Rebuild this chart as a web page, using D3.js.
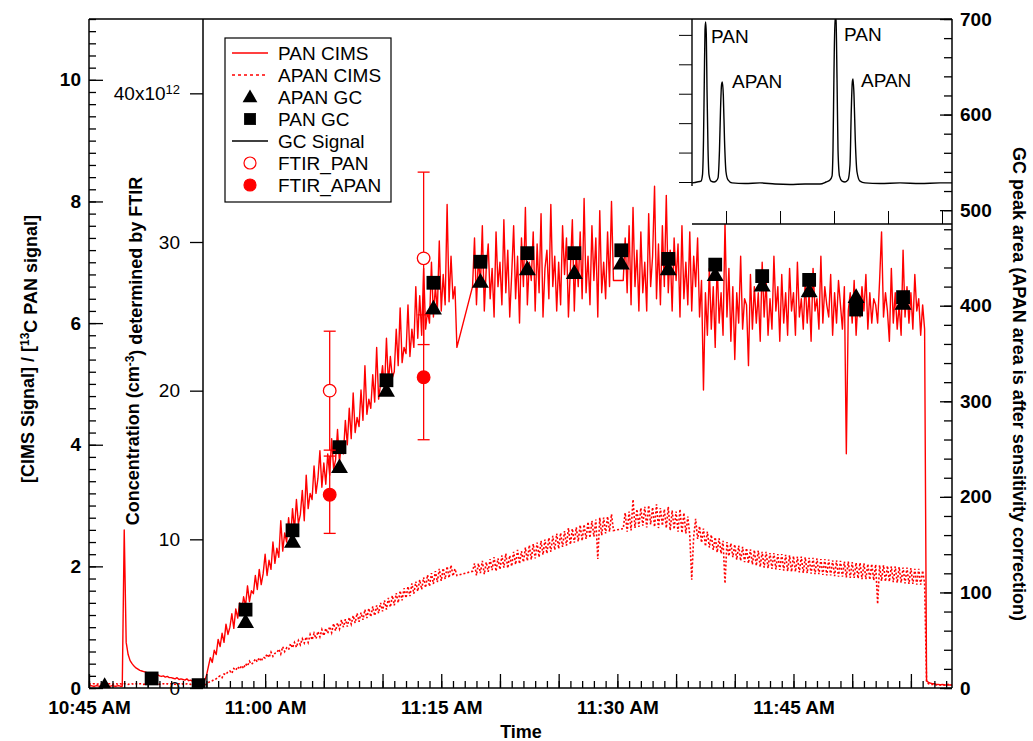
<!DOCTYPE html>
<html>
<head>
<meta charset="utf-8">
<script src="https://cdn.jsdelivr.net/npm/d3@7"></script>
<style>
  body { margin: 0; background: #fff; }
  svg { display: block; font-family: Arial, "Liberation Sans", sans-serif; }
</style>
</head>
<body>
<div id="chart"></div>
<script>
const parseTime = d3.timeParse("%H:%M:%S");

// CIMS ratios (left axis), one value every 10 s from 10:45:00 (6 per row = 1 min), null = no data
const cimsStart = "10:45:00";
const cimsStepSec = 10;
const panCims = [
  0.03, 0.04, 0.03, 0.03, 0.04, 0.03,
  0.03, 0.04, 0.03, 0.04, 0.03, 0.03,
  0.04, 0.03, 0.03, 0.04, 0.03, 0.03,
  2.6, 0.75, 0.55, 0.45, 0.4, 0.36,
  0.33, 0.31, 0.29, 0.28, 0.27, 0.26,
  0.25, 0.23, 0.24, 0.22, 0.21, 0.22,
  0.2, 0.19, 0.2, 0.18, 0.19, 0.17,
  0.17, 0.16, 0.15, 0.17, 0.14, 0.15,
  0.14, 0.13, 0.15, 0.12, 0.13, 0.11,
  0.12, 0.1, 0.11, 0.09, 0.1, 0.12,
  0.2, 0.35, 0.5, 0.42, 0.62, 0.55,
  0.8, 0.68, 0.9, 0.75, 1.05, 0.88,
  1.0, 1.22, 0.98, 1.3, 1.15, 1.4,
  1.25, 1.5, 1.35, 1.68, 1.42, 1.6,
  1.55, 1.85, 1.62, 1.95, 1.7, 1.88,
  2.2, 1.85, 2.1, 1.95, 2.4, 2.05,
  2.3, 2.15, 2.75, 2.25, 2.55, 2.4,
  2.8, 2.45, 2.95, 2.6, 3.1, 2.7,
  2.85, 3.25, 2.75, 3.5, 2.95, 3.2,
  3.1, 3.65, 3.2, 3.45, 3.9, 3.3,
  3.7, 3.35, 3.85, 3.5, 4.1, 3.6,
  3.75, 4.25, 3.7, 4.05, 3.85, 4.4,
  4.0, 4.6, 4.1, 4.85, 4.2, 4.45,
  4.3, 4.9, 4.4, 5.3, 4.5, 4.75,
  4.6, 5.15, 4.7, 5.6, 4.75, 5.0,
  5.3, 4.9, 5.75, 5.0, 5.45, 5.1,
  5.2, 5.9, 5.3, 6.25, 5.35, 5.6,
  5.5, 6.3, 5.45, 5.9, 5.6, 6.6,
  5.75, 6.45, 5.8, 6.9, 5.9, 6.2,
  6.0, 7.0, 6.1, 6.6, 6.2, 7.35,
  6.2, 6.8, 6.3, 7.95, 6.35, 7.1,
  6.4, 6.6, 5.6, null, null, null,
  null, null, null, null, 6.6, 7.4,
  6.3, 7.1, 6.6, 7.6, 6.2, 6.9,
  7.3, 6.4, 6.9, 6.1, 7.5, 6.6,
  7.0, 6.3, 7.7, 6.5, 7.2, 6.1,
  6.8, 7.6, 6.4, 7.1, 6.0, 7.4,
  6.6, 7.9, 6.3, 7.0, 6.7, 7.5,
  6.2, 7.3, 6.5, 7.8, 6.1, 6.9,
  7.2, 6.4, 7.95, 6.6, 7.1, 6.2,
  7.0, 6.3, 7.6, 6.8, 7.4, 6.1,
  6.9, 7.7, 6.2, 7.2, 6.6, 7.5,
  6.4, 8.05, 6.5, 7.1, 6.3, 7.6,
  6.7, 7.4, 6.1, 7.85, 6.5, 7.0,
  6.4, 7.5, 6.6, 8.0, 6.7, null,
  null, null, null, 6.7, 7.4, 6.5,
  7.6, 6.3, 7.9, 6.6, 7.2, 6.2,
  7.5, 6.5, 7.0, 6.2, 7.8, 6.6,
  7.1, 8.25, 6.4, 7.3, 6.3, 7.6,
  6.6, 8.1, 6.5, 7.2, 6.2, 7.4,
  6.7, 7.3, 6.1, 7.6, 6.4, 7.0,
  6.3, 7.5, 6.2, 7.1, 6.6, 7.4,
  6.1, 6.7, 4.9, 6.5, 5.8, 6.9,
  5.9, 6.6, 5.6, 7.0, 6.0, 6.5,
  5.8, 7.65, 6.1, 6.9, 5.7, 6.6,
  5.4, 6.5, 6.0, 7.1, 5.9, 6.4,
  6.3, 5.3, 6.8, 5.9, 6.6, 6.0,
  6.5, 5.7, 7.0, 6.1, 6.7, 5.8,
  6.4, 5.9, 7.1, 6.2, 6.6, 5.7,
  6.8, 6.0, 6.5, 5.8, 6.9, 6.2,
  6.5, 5.8, 7.0, 6.1, 6.4, 5.9,
  6.7, 6.0, 6.5, 5.7, 6.9, 6.2,
  6.4, 5.9, 7.1, 6.0, 6.6, 6.3,
  6.1, 6.8, 5.8, 6.5, 6.0, 6.7,
  6.3, 5.9, 6.6, 3.85, 6.2, 6.5,
  6.0, 6.7, 5.8, 6.4, 6.1, 6.6,
  6.2, 6.8, 5.9, 6.5, 6.0, 6.4,
  6.3, 6.0, 6.7, 7.5, 6.1, 6.5,
  6.2, 5.7, 6.9, 6.0, 6.5, 5.9,
  6.3, 5.8, 7.2, 6.1, 6.6, 6.0,
  6.5, 5.9, 6.8, 6.2, 6.4, 5.8,
  6.3, 5.9, 0.12, 0.09, 0.08, 0.07,
  0.07, 0.06, 0.06, 0.05, 0.06, 0.05,
  0.05, 0.05, 0.05, 0.05
];
const apanCims = [
  0.07, 0.06, 0.07, 0.07, 0.06, 0.07,
  0.07, 0.06, 0.07, 0.06, 0.07, 0.07,
  0.06, 0.07, 0.07, 0.06, 0.07, 0.06,
  0.07, 0.07, 0.06, 0.07, 0.07, 0.06,
  0.07, 0.06, 0.07, 0.07, 0.06, 0.07,
  0.07, 0.06, 0.07, 0.06, 0.07, 0.07,
  0.06, 0.07, 0.07, 0.06, 0.07, 0.06,
  0.07, 0.07, 0.06, 0.07, 0.07, 0.06,
  0.07, 0.06, 0.07, 0.07, 0.06, 0.07,
  0.07, 0.06, 0.07, 0.06, 0.05, 0.05,
  0.06, 0.09, 0.11, 0.12, 0.14, 0.15,
  0.18, 0.2, 0.17, 0.23, 0.22, 0.27,
  0.28, 0.24, 0.32, 0.29, 0.35, 0.31,
  0.37, 0.32, 0.4, 0.36, 0.44, 0.39,
  0.42, 0.48, 0.43, 0.5, 0.44, 0.51,
  0.49, 0.56, 0.5, 0.59, 0.52, 0.57,
  0.58, 0.64, 0.56, 0.68, 0.6, 0.66,
  0.63, 0.73, 0.66, 0.75, 0.67, 0.78,
  0.71, 0.81, 0.74, 0.84, 0.75, 0.88,
  0.79, 0.9, 0.81, 0.93, 0.84, 0.96,
  0.86, 0.98, 0.9, 1.01, 0.91, 1.06,
  0.94, 1.07, 0.97, 1.12, 1.0, 1.13,
  1.01, 1.16, 1.05, 1.19, 1.07, 1.23,
  1.09, 1.24, 1.12, 1.29, 1.15, 1.31,
  1.17, 1.34, 1.19, 1.36, 1.23, 1.4,
  1.26, 1.44, 1.29, 1.48, 1.33, 1.52,
  1.36, 1.56, 1.4, 1.6, 1.44, 1.64,
  1.48, 1.67, 1.51, 1.72, 1.55, 1.75,
  1.59, 1.78, 1.62, 1.82, 1.65, 1.86,
  1.67, 1.89, 1.71, 1.92, 1.74, 1.96,
  1.76, 1.97, 1.79, 2.0, 1.81, 2.02,
  1.84, 1.96, 1.85, null, null, null,
  null, null, null, null, 1.92, 2.05,
  1.85, 2.05, 1.89, 2.09, 1.87, 2.07,
  1.91, 2.12, 1.94, 2.15, 1.92, 2.13,
  1.95, 2.18, 1.98, 2.21, 1.97, 2.18,
  2.0, 2.24, 2.03, 2.27, 2.04, 2.25,
  2.07, 2.31, 2.09, 2.35, 2.11, 2.37,
  2.13, 2.39, 2.15, 2.42, 2.19, 2.44,
  2.21, 2.47, 2.24, 2.5, 2.27, 2.54,
  2.29, 2.55, 2.32, 2.58, 2.34, 2.63,
  2.36, 2.62, 2.39, 2.64, 2.41, 2.68,
  2.42, 2.69, 2.45, 2.73, 2.47, 2.75,
  2.49, 2.77, 2.12, 2.8, 2.51, 2.8,
  2.54, 2.82, 2.57, 2.86, 2.59, null,
  null, null, null, 2.62, 2.88, 2.57,
  2.9, 2.59, 3.1, 2.63, 2.94, 2.65,
  2.96, 2.67, 2.98, 2.64, 3.0, 2.69,
  2.97, 2.65, 3.02, 2.63, 2.96, 2.67,
  2.94, 2.63, 2.98, 2.59, 2.92, 2.61,
  2.9, 2.57, 2.94, 2.55, 2.88, 2.54,
  2.82, 2.51, 1.78, 2.49, 2.78, 2.45,
  2.66, 2.39, 2.62, 2.33, 2.57, 2.31,
  2.52, 2.27, 2.48, 2.23, 2.46, 2.21,
  2.42, 1.72, 2.4, 2.17, 2.38, 2.15,
  2.36, 2.11, 2.34, 2.09, 2.32, 2.07,
  2.3, 2.05, 2.28, 2.03, 2.27, 2.01,
  2.26, 1.99, 2.24, 1.98, 2.24, 1.97,
  2.22, 1.96, 2.22, 1.95, 2.2, 1.94,
  2.2, 1.93, 2.19, 1.92, 2.18, 1.91,
  2.17, 1.91, 2.16, 1.9, 2.16, 1.89,
  2.15, 1.89, 2.14, 1.88, 2.14, 1.87,
  2.13, 1.87, 2.12, 1.86, 2.12, 1.85,
  2.11, 1.85, 2.1, 1.84, 2.1, 1.83,
  2.09, 1.83, 2.08, 1.82, 2.08, 1.81,
  2.07, 1.81, 2.06, 1.8, 2.06, 1.79,
  2.05, 1.79, 2.04, 1.78, 2.04, 1.77,
  2.03, 1.38, 2.02, 1.76, 2.02, 1.75,
  2.01, 1.75, 2.0, 1.74, 2.0, 1.73,
  1.99, 1.73, 1.98, 1.72, 1.98, 1.71,
  1.97, 1.71, 1.96, 1.7, 1.96, 1.7,
  1.93, 1.72, 0.1, 0.07, 0.06, 0.06,
  0.06, 0.05, 0.06, 0.05, 0.06, 0.05,
  0.05, 0.06, 0.05, 0.05
];

// GC peak areas (right axis), one run every 4 min
const gcRunTimes = ["10:46:20", "10:50:20", "10:54:20", "10:58:20", "11:02:20", "11:06:20",
  "11:10:20", "11:14:20", "11:18:20", "11:22:20", "11:26:20", "11:30:20",
  "11:34:20", "11:38:20", "11:42:20", "11:46:20", "11:50:20", "11:54:20"];
const apanGc = [1, null, null, 68, 152, 230, 310, 396, 424, 437, 433, 443, 437, 431, 420, 414, 408, 401];
const panGc = [null, 10, 3, 82, 165, 252, 322, 424, 446, 455, 455, 458, 449, 443, 431, 427, 396, 409];

// FTIR concentrations (x10^12 cm-3, middle axis)
const ftirTimes = ["11:05:30", "11:13:30"];
const ftirPan = [20.0, 28.9];
const ftirPanErr = [4.0, 5.8];
const ftirApan = [13.0, 20.9];
const ftirApanErr = [2.6, 4.2];

// inset GC chromatogram (two runs back to back)
const gcTraceTime = [0.370, 0.463, 0.537, 0.564, 0.583, 0.598, 0.611, 0.622, 0.635, 0.648, 0.667, 0.685,
  0.722, 0.778, 0.815, 0.852, 0.879, 0.898, 0.917, 0.931, 0.950, 0.972, 1.000, 1.037, 1.111, 1.352,
  1.629, 1.907, 2.185, 2.463, 2.741, 2.852, 2.926, 2.963, 2.981, 3.000, 3.019, 3.037, 3.056, 3.074,
  3.102, 3.148, 3.204, 3.259, 3.296, 3.320, 3.339, 3.352, 3.370, 3.394, 3.426, 3.481, 3.574, 3.852,
  4.222, 4.593, 4.963, 5.185];
const gcTraceSignal = [-0.03, 0, 0.03, 0.24, 1.43, 3.47, 5.17, 5.44, 5.0, 3.13, 1.09, 0.24,
  0.03, 0, 0.03, 0.14, 1.09, 2.45, 3.3, 3.4, 2.96, 1.43, 0.34, 0.07, -0.03, -0.05,
  -0.03, -0.07, -0.085, -0.07, -0.07, 0, 0.07, 0.2, 1.09, 3.81, 5.61, 5.5, 3.47, 1.09,
  0.2, 0.03, 0, 0.07, 0.58, 2.45, 3.4, 3.5, 2.96, 1.43, 0.34, 0.03, -0.03, -0.05,
  -0.03, -0.05, -0.03, -0.03];
const insetLabels = ["PAN", "APAN", "PAN", "APAN"];
const insetLabelTime = [0.722, 1.111, 3.185, 3.5];
const insetLabelSignal = [4.73, 3.2, 4.8, 3.23];

// axes
const timeDomain = ["10:45:00", "11:58:30"];
const leftTicks = [0, 2, 4, 6, 8, 10];
const ftirTicks = [0, 10, 20, 30, 40];
const rightTicks = [0, 100, 200, 300, 400, 500, 600, 700];
const insetTimeTicks = [1, 2, 3, 4, 5];
const insetSignalTicks = [0, 1, 2, 3, 4, 5];

const width = 1033, height = 741;
const plot = { left: 89, right: 952, top: 19, bottom: 688 };
const ftirAxisX = 203;
const inset = { left: 692, right: 952, top: 19, axisEnd: 186, bottom: 224, base: 182 };
const red = "#ff0000";

const svg = d3.select("#chart").append("svg")
    .attr("width", width)
    .attr("height", height);

const x = d3.scaleTime()
    .domain(timeDomain.map(parseTime))
    .range([plot.left, plot.right]);
const yLeft = d3.scaleLinear().domain([0, 11]).range([plot.bottom, plot.top]);
const yFtir = d3.scaleLinear().domain([0, 45]).range([plot.bottom, plot.top]);
const yRight = d3.scaleLinear().domain([0, 700]).range([plot.bottom, plot.top]);

svg.append("clipPath").attr("id", "plot-clip")
  .append("rect")
    .attr("x", plot.left).attr("y", plot.top)
    .attr("width", plot.right - plot.left).attr("height", plot.bottom - plot.top);

function cimsPoints(values) {
    const t0 = parseTime(cimsStart);
    return values
        .map((v, i) => ({ t: d3.timeSecond.offset(t0, i * cimsStepSec), v: v }))
        .filter(d => d.v !== null);
}

const cimsLine = d3.line()
    .x(d => x(d.t))
    .y(d => yLeft(d.v));

const dataLayer = svg.append("g").attr("clip-path", "url(#plot-clip)");

dataLayer.append("path")
    .datum(cimsPoints(apanCims))
    .attr("fill", "none")
    .attr("stroke", red)
    .attr("stroke-width", 1.6)
    .attr("stroke-dasharray", "2 2")
    .attr("d", cimsLine);

dataLayer.append("path")
    .datum(cimsPoints(panCims))
    .attr("fill", "none")
    .attr("stroke", red)
    .attr("stroke-width", 1.4)
    .attr("stroke-linejoin", "round")
    .attr("d", cimsLine);

// GC markers
const triangle = d3.symbol(d3.symbolTriangle, 125);
const square = d3.symbol(d3.symbolSquare, 190);

dataLayer.append("g").selectAll("path")
    .data(gcRunTimes.map((t, i) => ({ t: parseTime(t), v: apanGc[i] })).filter(d => d.v !== null))
    .join("path")
    .attr("transform", d => `translate(${x(d.t)},${yRight(d.v)})`)
    .attr("d", triangle)
    .attr("fill", "black");

dataLayer.append("g").selectAll("path")
    .data(gcRunTimes.map((t, i) => ({ t: parseTime(t), v: panGc[i] })).filter(d => d.v !== null))
    .join("path")
    .attr("transform", d => `translate(${x(d.t)},${yRight(d.v)})`)
    .attr("d", square)
    .attr("fill", "black");

// FTIR points with error bars
function ftirSeries(vals, errs) {
    return ftirTimes.map((t, i) => ({ t: parseTime(t), v: vals[i], e: errs[i] }));
}
const ftirGroup = dataLayer.append("g").attr("stroke", red).attr("stroke-width", 1.3);
[ftirSeries(ftirPan, ftirPanErr), ftirSeries(ftirApan, ftirApanErr)].forEach((series, k) => {
    const g = ftirGroup.append("g");
    g.selectAll(".bar").data(series).join("line")
        .attr("x1", d => x(d.t)).attr("x2", d => x(d.t))
        .attr("y1", d => yFtir(d.v - d.e)).attr("y2", d => yFtir(d.v + d.e));
    g.selectAll(".cap-hi").data(series).join("line")
        .attr("x1", d => x(d.t) - 6).attr("x2", d => x(d.t) + 6)
        .attr("y1", d => yFtir(d.v + d.e)).attr("y2", d => yFtir(d.v + d.e));
    g.selectAll(".cap-lo").data(series).join("line")
        .attr("x1", d => x(d.t) - 6).attr("x2", d => x(d.t) + 6)
        .attr("y1", d => yFtir(d.v - d.e)).attr("y2", d => yFtir(d.v - d.e));
    g.selectAll("circle").data(series).join("circle")
        .attr("cx", d => x(d.t))
        .attr("cy", d => yFtir(d.v))
        .attr("r", 6.3)
        .attr("fill", k === 0 ? "white" : red);
});

// inset chromatogram
const ix = d3.scaleLinear().domain([0.37, 5.185]).range([inset.left, inset.right]);
const iy = d3.scaleLinear().domain([0, 5.54]).range([inset.base, inset.top]);

svg.append("clipPath").attr("id", "inset-clip")
  .append("rect")
    .attr("x", inset.left).attr("y", inset.top)
    .attr("width", inset.right - inset.left).attr("height", inset.bottom - inset.top);

const insetG = svg.append("g");
insetG.append("rect")
    .attr("x", inset.left).attr("y", inset.top)
    .attr("width", inset.right - inset.left).attr("height", inset.bottom - inset.top)
    .attr("fill", "white");

insetG.append("path")
    .datum(gcTraceTime.map((t, i) => [t, gcTraceSignal[i]]))
    .attr("clip-path", "url(#inset-clip)")
    .attr("fill", "none")
    .attr("stroke", "black")
    .attr("stroke-width", 1.4)
    .attr("d", d3.line().x(d => ix(d[0])).y(d => iy(d[1])).curve(d3.curveMonotoneX));

insetG.selectAll(".peak-label")
    .data(insetLabels)
    .join("text")
    .attr("x", (d, i) => ix(insetLabelTime[i]))
    .attr("y", (d, i) => iy(insetLabelSignal[i]))
    .attr("font-size", 19)
    .text(d => d);

insetG.append("g")
    .attr("transform", `translate(${inset.left},0)`)
    .call(d3.axisLeft(iy).tickValues(insetSignalTicks).tickSize(13).tickFormat(""))
    .call(g => g.select(".domain").remove());
insetG.append("line")
    .attr("x1", inset.left).attr("x2", inset.left)
    .attr("y1", inset.top).attr("y2", inset.axisEnd)
    .attr("stroke", "black").attr("stroke-width", 1.4);

insetG.append("g")
    .attr("transform", `translate(0,${inset.bottom})`)
    .call(d3.axisBottom(ix).tickValues(insetTimeTicks).tickSize(-13).tickFormat(""))
    .call(g => g.select(".domain").remove());
insetG.append("line")
    .attr("x1", inset.left).attr("x2", inset.right)
    .attr("y1", inset.bottom).attr("y2", inset.bottom)
    .attr("stroke", "black").attr("stroke-width", 1.4);

// legend
const legendItems = [
    { label: "PAN CIMS", kind: "line", color: red },
    { label: "APAN CIMS", kind: "dash", color: red },
    { label: "APAN GC", kind: "triangle", color: "black" },
    { label: "PAN GC", kind: "square", color: "black" },
    { label: "GC Signal", kind: "line", color: "black" },
    { label: "FTIR_PAN", kind: "open", color: red },
    { label: "FTIR_APAN", kind: "filled", color: red }
];
const legend = svg.append("g").attr("transform", "translate(225,38)");
legend.append("rect")
    .attr("width", 166).attr("height", 164)
    .attr("fill", "white").attr("stroke", "black").attr("stroke-width", 1.2);
const rows = legend.selectAll(".row").data(legendItems).join("g")
    .attr("transform", (d, i) => `translate(0,${15 + i * 22})`);
rows.filter(d => d.kind === "line" || d.kind === "dash").append("line")
    .attr("x1", 7).attr("x2", 43)
    .attr("stroke", d => d.color)
    .attr("stroke-width", 1.3)
    .attr("stroke-dasharray", d => d.kind === "dash" ? "3 3" : null);
rows.filter(d => d.kind === "triangle").append("path")
    .attr("transform", "translate(25,1)").attr("d", d3.symbol(d3.symbolTriangle, 95));
rows.filter(d => d.kind === "square").append("path")
    .attr("transform", "translate(25,0)").attr("d", d3.symbol(d3.symbolSquare, 140));
rows.filter(d => d.kind === "open" || d.kind === "filled").append("circle")
    .attr("cx", 25).attr("r", 6)
    .attr("stroke", red).attr("stroke-width", 1.2)
    .attr("fill", d => d.kind === "open" ? "white" : red);
rows.append("text")
    .attr("x", 53).attr("y", 7)
    .attr("font-size", 19)
    .text(d => d.label);

// axes
function styleAxis(g, size, weight) {
    g.select(".domain").remove();
    g.selectAll(".tick line").attr("stroke-width", 1.3);
    g.selectAll("text")
        .attr("font-family", "Arial, 'Liberation Sans', sans-serif")
        .attr("font-size", size)
        .attr("font-weight", weight)
        .attr("fill", "black");
}

const gx = svg.append("g").attr("transform", `translate(0,${plot.bottom})`);
gx.append("g").call(d3.axisBottom(x).ticks(d3.timeMinute.every(1)).tickSize(-7).tickFormat(""))
    .call(g => styleAxis(g, 19, "bold"));
gx.append("g").call(d3.axisBottom(x).ticks(d3.timeMinute.every(5)).tickSize(-14).tickFormat(""))
    .call(g => styleAxis(g, 19, "bold"));
gx.append("g").call(d3.axisBottom(x).ticks(d3.timeMinute.every(15)).tickSize(0).tickPadding(13)
        .tickFormat(d3.timeFormat("%-I:%M %p")))
    .call(g => styleAxis(g, 19, "bold"));

const gl = svg.append("g").attr("transform", `translate(${plot.left},0)`);
gl.append("g").call(d3.axisLeft(yLeft).tickValues(d3.range(0, 11.01, 0.2)).tickSize(-7).tickFormat(""))
    .call(g => styleAxis(g, 18, "bold"));
gl.append("g").call(d3.axisLeft(yLeft).tickValues(leftTicks).tickSize(-14).tickPadding(8))
    .call(g => styleAxis(g, 19, "bold"));

const gm = svg.append("g").attr("transform", `translate(${ftirAxisX},0)`)
    .call(d3.axisLeft(yFtir).tickValues(ftirTicks).tickSize(13).tickPadding(10)
        .tickFormat(d => d === 40 ? "40x10" : d))
    .call(g => styleAxis(g, 19, "normal"));
gm.selectAll(".tick text").filter(d => d === 40)
    .append("tspan").attr("dy", "-0.45em").attr("font-size", 13).text("12");

const gr = svg.append("g").attr("transform", `translate(${plot.right},0)`);
gr.append("g").call(d3.axisRight(yRight).tickValues(d3.range(0, 701, 20)).tickSize(-8).tickFormat(""))
    .call(g => styleAxis(g, 18, "bold"));
gr.append("g").call(d3.axisRight(yRight).tickValues(rightTicks).tickSize(-12).tickPadding(8))
    .call(g => styleAxis(g, 19, "bold"));

// frame
const frame = svg.append("g").attr("stroke", "black").attr("stroke-width", 1.5);
frame.append("line").attr("x1", plot.left).attr("x2", plot.right).attr("y1", plot.top).attr("y2", plot.top);
frame.append("line").attr("x1", plot.left).attr("x2", plot.right).attr("y1", plot.bottom).attr("y2", plot.bottom);
frame.append("line").attr("x1", plot.left).attr("x2", plot.left).attr("y1", plot.top).attr("y2", plot.bottom);
frame.append("line").attr("x1", plot.right).attr("x2", plot.right).attr("y1", plot.top).attr("y2", plot.bottom);
frame.append("line").attr("x1", ftirAxisX).attr("x2", ftirAxisX).attr("y1", plot.top).attr("y2", plot.bottom);

// axis titles
const titles = svg.append("g").attr("font-weight", "bold").attr("font-size", 18).attr("text-anchor", "middle");
titles.append("text").attr("x", 521).attr("y", 738).text("Time");

const leftTitle = titles.append("text").attr("transform", "translate(34,349) rotate(-90)");
leftTitle.append("tspan").text("[CIMS Signal] / [");
leftTitle.append("tspan").attr("dy", "-0.45em").attr("font-size", 12).text("13");
leftTitle.append("tspan").attr("dy", "0.45em").text("C PAN signal]");

const midTitle = titles.append("text").attr("transform", "translate(139,351) rotate(-90)");
midTitle.append("tspan").text("Concentration (cm");
midTitle.append("tspan").attr("dy", "-0.45em").attr("font-size", 12).text("-3");
midTitle.append("tspan").attr("dy", "0.45em").text(") determined by FTIR");

titles.append("text").attr("transform", "translate(1013,384) rotate(90)")
    .text("GC peak area (APAN area is after sensitivity correction)");
</script>
</body>
</html>
